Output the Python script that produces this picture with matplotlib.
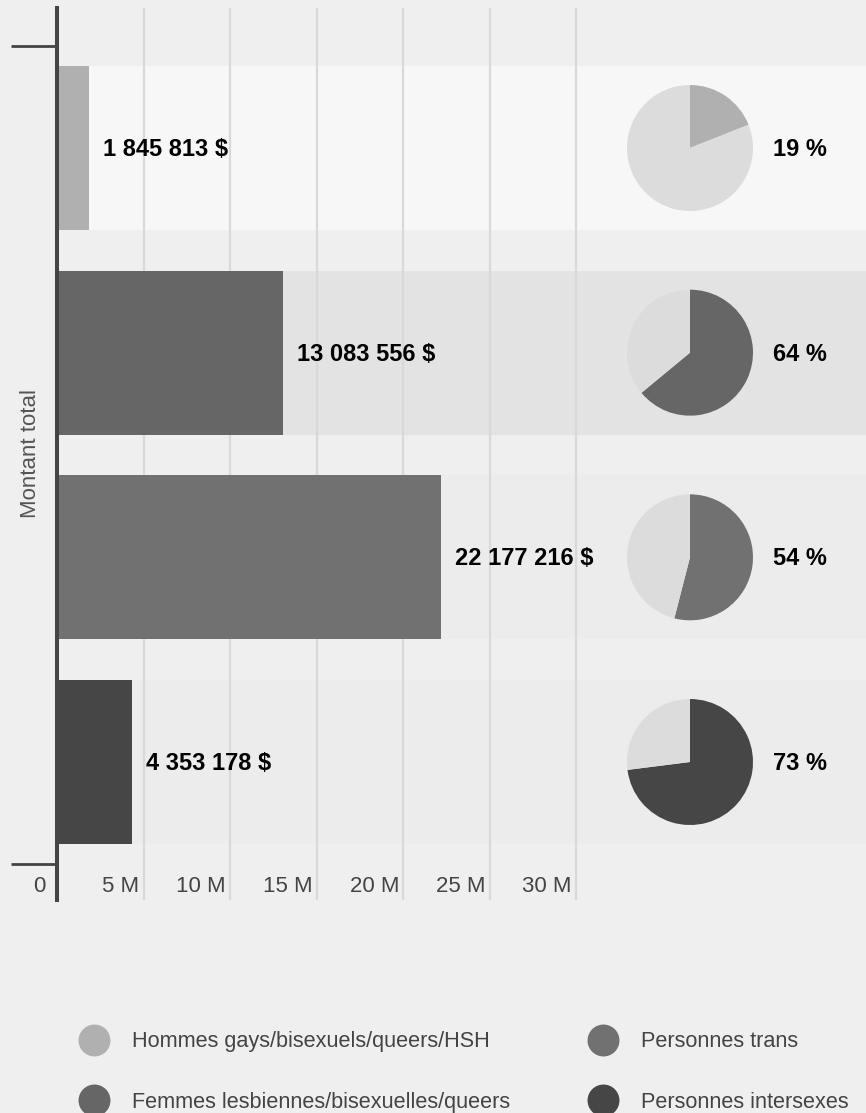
import matplotlib.pyplot as plt
from matplotlib.lines import Line2D
from matplotlib.transforms import blended_transform_factory, offset_copy

plt.rcParams['font.family'] = ['Liberation Sans', 'DejaVu Sans']

# data
groups = ['Hommes gays/bisexuels/queers/HSH',
          'Femmes lesbiennes/bisexuelles/queers',
          'Personnes trans',
          'Personnes intersexes']
amounts = [1845813, 13083556, 22177216, 4353178]
amount_labels = ['1 845 813 $', '13 083 556 $', '22 177 216 $', '4 353 178 $']
shares = [19, 64, 54, 73]
tick_vals = [0, 5e6, 10e6, 15e6, 20e6, 25e6, 30e6]
tick_labels = ['0', '5 M', '10 M', '15 M', '20 M', '25 M', '30 M']

bar_colors = ['#b0b0b0', '#666666', '#717171', '#464646']
band_colors = ['#f7f7f7', '#e3e3e3', '#ececec', '#ececec']
rest_color = '#dcdcdc'
bg = '#efefef'

W, H = 866, 1113
fig = plt.figure(figsize=(W / 100, H / 100), dpi=100, facecolor=bg)

# main axes (pixel layout)
ax_l, ax_t, ax_r, ax_b = 57, 8, 866, 900
ax = fig.add_axes([ax_l / W, 1 - ax_b / H, (ax_r - ax_l) / W, (ax_b - ax_t) / H])
ax.set_facecolor('none')
px_per_unit = 86.5 / 5e6
ax.set_xlim(0, (ax_r - ax_l) / px_per_unit)
row_px = 204.67
ax.set_ylim((ax_b - 148) / row_px, -(148 - ax_t) / row_px)

for s in ['top', 'right', 'bottom']:
    ax.spines[s].set_visible(False)
ax.spines['left'].set_color('#444444')
ax.spines['left'].set_linewidth(2.9)

ax.set_yticks([-0.5, len(groups) - 0.5])
ax.set_yticklabels([])
ax.tick_params(axis='y', length=33, width=2, color='#444444', direction='out')
ax.set_xticks([])

# bands
for i, c in enumerate(band_colors):
    ax.axhspan(i - 0.4, i + 0.4, xmin=0, xmax=1, color=c, lw=0, zorder=0)

# gridlines
for v in tick_vals[1:]:
    ax.axvline(v, color='#d9d9d9', lw=1.6, zorder=1)

# x tick labels
tr = blended_transform_factory(ax.transData, ax.transAxes)
for v, lab in zip(tick_vals, tick_labels):
    dx = -11 if v == 0 else -4
    ax.text(v, (ax_b - 886) / (ax_b - ax_t), lab,
            transform=offset_copy(tr, fig=fig, x=dx, units='dots'),
            ha='right', va='center', fontsize=16, color='#444444')

# bars
ypos = list(range(len(groups)))
ax.barh(ypos, amounts, height=0.8, color=bar_colors, zorder=2)
for y, v, lab in zip(ypos, amounts, amount_labels):
    ax.annotate(lab, (v, y), xytext=(10, -1), textcoords='offset points',
                ha='left', va='center', fontsize=17, fontweight='bold',
                color='black', zorder=3)

ax.set_ylabel('Montant total', fontsize=16, color='#555555')
ax.yaxis.set_label_coords((30 - ax_l) / (ax_r - ax_l), (ax_b - 453) / (ax_b - ax_t))
ax.yaxis.label.set_va('center')

# pies
r = 63
cx = 690
for i, (p, c) in enumerate(zip(shares, bar_colors)):
    cy = 148 + i * row_px
    pa = fig.add_axes([(cx - r) / W, 1 - (cy + r) / H, 2 * r / W, 2 * r / H])
    pa.pie([p, 100 - p], colors=[c, rest_color], startangle=90,
           counterclock=False, wedgeprops=dict(linewidth=0))
    pa.set_xlim(-1, 1)
    pa.set_ylim(-1, 1)
    pa.set_aspect('equal')
    pa.axis('off')
    pa.annotate(f'{p} %', (1, 0.5), xycoords='axes fraction',
                xytext=(14.4, -1), textcoords='offset points',
                ha='left', va='center', fontsize=17, fontweight='bold',
                color='black')

# legend
handles = [Line2D([], [], marker='o', linestyle='none', markersize=23,
                  markerfacecolor=c, markeredgewidth=0) for c in bar_colors]
fig.legend(handles, groups, loc='center left',
           bbox_to_anchor=(78 / W, 1 - 1072 / H), ncol=2, frameon=False,
           fontsize=15.6, labelcolor='#444444', handlelength=1.5,
           handletextpad=1.0, columnspacing=3.55, labelspacing=1.83,
           borderpad=0, borderaxespad=0)

fig.savefig('out.png', dpi=100, facecolor=bg)
